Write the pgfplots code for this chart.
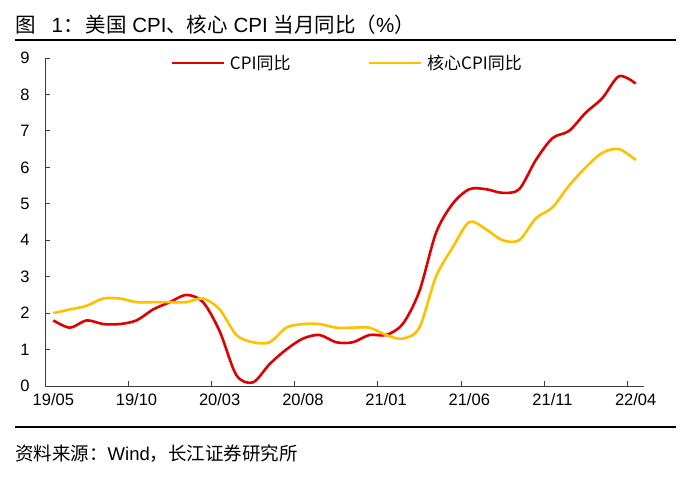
\documentclass[border=0pt]{standalone}
\usepackage{pgfplots}
\pgfplotsset{compat=1.18}
\usepackage{fontspec}
\setmainfont{Liberation Sans}
\newfontfamily\cjk{Noto Sans CJK SC}
\definecolor{cpired}{RGB}{224,0,0}
\definecolor{coreyel}{RGB}{255,192,0}
\definecolor{axgray}{RGB}{60,60,60}

% index 0 = 2019/05 ... 35 = 2022/04
\pgfplotstableread{
i cpi core
0 1.8 2.0
1 1.6 2.1
2 1.8 2.2
3 1.7 2.4
4 1.7 2.4
5 1.8 2.3
6 2.1 2.3
7 2.3 2.3
8 2.5 2.3
9 2.3 2.4
10 1.5 2.1
11 0.3 1.4
12 0.1 1.2
13 0.6 1.2
14 1.0 1.6
15 1.3 1.7
16 1.4 1.7
17 1.2 1.6
18 1.2 1.6
19 1.4 1.6
20 1.4 1.4
21 1.7 1.3
22 2.6 1.6
23 4.2 3.0
24 5.0 3.8
25 5.4 4.5
26 5.4 4.3
27 5.3 4.0
28 5.4 4.0
29 6.2 4.6
30 6.8 4.9
31 7.0 5.5
32 7.5 6.0
33 7.9 6.4
34 8.5 6.5
35 8.3 6.2
}\cpidata

\begin{document}
\begin{tikzpicture}[x=1pt,y=1pt]
\path[use as bounding box] (0,0) rectangle (696,478);
% title and rules
\node[anchor=base west,inner sep=0pt,font=\fontsize{20.5}{24}\selectfont] at (15,445)
  {{\cjk 图}\hspace{16pt}1{\cjk ：}\hspace{2pt}{\cjk 美国} CPI{\cjk 、核心} CPI {\cjk 当月同比（}\%{\cjk ）}};
\draw[line width=2pt] (15,438) -- (676,438);
\draw[line width=2pt] (15,51) -- (676,51);
\node[anchor=base west,inner sep=0pt,font=\fontsize{18.5}{22}\selectfont] at (15,17)
  {{\cjk 资料来源：}Wind{\cjk ，长江证券研究所}};

\begin{axis}[
  at={(45pt,92pt)}, anchor=south west,
  width=599pt, height=328pt, scale only axis,
  xmin=-0.5, xmax=35.5, ymin=0, ymax=9,
  axis x line=bottom, axis y line=left,
  axis line style={-,draw=axgray,line width=0.9pt},
  tick align=inside,
  major tick length=5pt,
  tick style={draw=axgray,line width=0.9pt},
  xtick={-0.5,4.5,...,34.5},
  xticklabels={19/05,19/10,20/03,20/08,21/01,21/06,21/11,22/04},
  xticklabel style={xshift=8.32pt,yshift=-4pt},
  ytick={0,1,...,9},
  yticklabel style={xshift=-12pt},
  ticklabel style={font=\fontsize{16.5}{19}\selectfont},
  /pgf/number format/assume math mode=true,
  legend columns=2,
  legend style={at={(0.209,0.985)},anchor=west,draw=none,fill=none,
    font=\cjk\fontsize{17}{20}\selectfont,inner sep=0pt,
    nodes={inner sep=1pt},
    /tikz/every odd column/.append style={column sep=4pt},
    /tikz/every even column/.append style={column sep=76pt}},
  legend image code/.code={\draw[#1] (0pt,0pt) -- (52pt,0pt);},
]
\addplot[cpired,line width=2.6pt,smooth,tension=0.5] table[x=i,y=cpi]{\cpidata};
\addlegendentry{CPI同比}
\addplot[coreyel,line width=2.6pt,smooth,tension=0.5] table[x=i,y=core]{\cpidata};
\addlegendentry{核心CPI同比}
\end{axis}
\end{tikzpicture}
\end{document}
